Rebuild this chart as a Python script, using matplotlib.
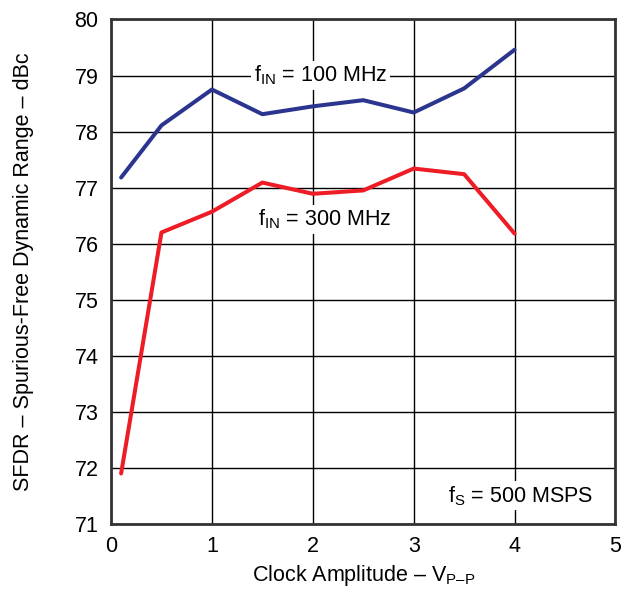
import numpy as np
import matplotlib
matplotlib.use("Agg")
import matplotlib.pyplot as plt

plt.rcParams['font.family'] = ['Liberation Sans', 'DejaVu Sans']
plt.rcParams['mathtext.fontset'] = 'custom'
plt.rcParams['mathtext.rm'] = 'Liberation Sans'
plt.rcParams['mathtext.it'] = 'Liberation Sans'

clk = [0.1, 0.5, 1.0, 1.5, 2.0, 2.5, 3.0, 3.5, 4.0]
sfdr_100 = [77.18, 78.11, 78.75, 78.31, 78.45, 78.56, 78.34, 78.77, 79.46]
sfdr_300 = [71.90, 76.20, 76.57, 77.09, 76.89, 76.95, 77.34, 77.24, 76.18]

fs = 15.5
fig = plt.figure(figsize=(6.22, 5.90), dpi=100)
ax = fig.add_axes([0.1785, 0.112, 0.811, 0.855])

ax.plot(clk, sfdr_100, color='#2B3590', lw=2.9, solid_capstyle='round', zorder=3)
ax.plot(clk, sfdr_300, color='#EE1C25', lw=2.9, solid_capstyle='round', zorder=3)

ax.set_xlim(0, 5)
ax.set_ylim(71, 80)
ax.set_xticks(np.arange(0, 6, 1))
ax.set_yticks(np.arange(71, 81, 1))
ax.grid(True, color='black', lw=1.0)
ax.set_axisbelow(True)
for s in ax.spines.values():
    s.set_linewidth(2)
    s.set_color('#333333')
ax.tick_params(length=0, labelsize=fs, pad=9)

box = dict(facecolor='white', edgecolor='none', pad=2)
ax.text(2.08, 79.0, r'f$_\mathrm{IN}$ = 100 MHz', fontsize=fs, ha='center', va='center', bbox=box, zorder=4)
ax.text(2.12, 76.43, r'f$_\mathrm{IN}$ = 300 MHz', fontsize=fs, ha='center', va='center', bbox=box, zorder=4)
ax.text(4.06, 71.5, r'f$_\mathrm{S}$ = 500 MSPS', fontsize=fs, ha='center', va='center', bbox=box, zorder=4)

ax.set_xlabel(r'Clock Amplitude – V$_\mathrm{P–P}$', fontsize=fs, labelpad=4)
ax.set_ylabel('SFDR – Spurious-Free Dynamic Range – dBc', fontsize=fs, labelpad=29)

fig.savefig('out.png', dpi=100)
